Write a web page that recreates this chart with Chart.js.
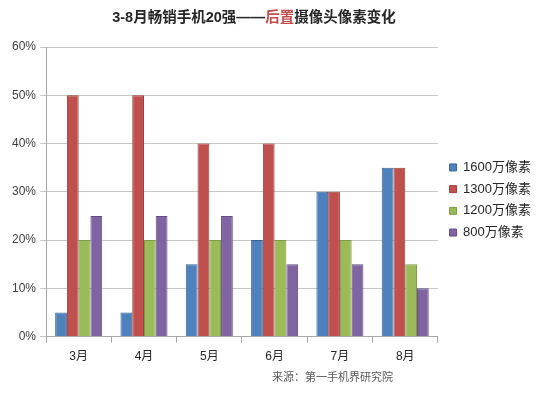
<!DOCTYPE html>
<html>
<head>
<meta charset="utf-8">
<script src="https://cdn.jsdelivr.net/npm/chart.js"></script>
<style>
  html, body { margin: 0; padding: 0; background: #fff; }
</style>
</head>
<body>
<canvas id="chart" width="553" height="395"></canvas>
<script>
const months = ['3月', '4月', '5月', '6月', '7月', '8月'];
const px1600 = [5, 5, 15, 20, 30, 35];
const px1300 = [50, 50, 40, 40, 30, 35];
const px1200 = [20, 20, 20, 20, 20, 15];
const px800 = [25, 25, 25, 15, 15, 10];
const seriesNames = ['1600万像素', '1300万像素', '1200万像素', '800万像素'];
const titleParts = [['3-8月畅销手机20强——', '#262626'], ['后置', '#c0504d'], ['摄像头像素变化', '#262626']];
const sourceText = '来源：第一手机界研究院';

const FONT = "'Liberation Sans', 'Noto Sans CJK SC', sans-serif";
const colors = ['#4f81bd', '#c0504d', '#9bbb59', '#8064a2'];
const borders = ['#3b6496', '#9c3d3a', '#7d9a44', '#644d83'];

// title + source line, drawn straight on the canvas
const extraText = {
  id: 'extraText',
  afterDraw(chart) {
    const ctx = chart.ctx;
    ctx.save();
    ctx.font = "bold 14.5px " + FONT;
    ctx.textBaseline = 'middle';
    let total = 0;
    titleParts.forEach(p => total += ctx.measureText(p[0]).width);
    let x = 254 - total / 2;
    titleParts.forEach(p => {
      ctx.fillStyle = p[1];
      ctx.fillText(p[0], x, 18);
      x += ctx.measureText(p[0]).width;
    });
    ctx.font = "11px " + FONT;
    ctx.fillStyle = '#595959';
    ctx.textAlign = 'left';
    ctx.fillText(sourceText, 272, 378);
    ctx.restore();
  }
};

// nudge the legend a bit right and up, like the original
const legendNudge = {
  id: 'legendNudge',
  afterUpdate(chart) {
    const lg = chart.legend;
    lg.left += 3; lg.right += 3;
    lg.top -= 9; lg.bottom -= 9;
  }
};

new Chart(document.getElementById('chart'), {
  type: 'bar',
  data: {
    labels: months,
    datasets: [px1600, px1300, px1200, px800].map((d, i) => ({
      label: seriesNames[i],
      data: d,
      backgroundColor: colors[i],
      borderColor: borders[i],
      borderWidth: 1,
      categoryPercentage: 0.72,
      barPercentage: 1
    }))
  },
  options: {
    responsive: false,
    animation: false,
    layout: { padding: { top: 47, left: 8, right: 15, bottom: 24 } },
    plugins: {
      tooltip: { enabled: false },
      legend: {
        position: 'right',
        labels: {
          boxWidth: 7,
          boxHeight: 7,
          padding: 8.7,
          color: '#262626',
          font: { family: FONT, size: 13 }
        }
      }
    },
    scales: {
      x: {
        grid: { offset: true, drawOnChartArea: false, drawTicks: true, tickLength: 6, color: '#a6a6a6' },
        border: { color: '#a6a6a6' },
        ticks: { color: '#262626', font: { family: FONT, size: 12 }, padding: 7 }
      },
      y: {
        min: 0,
        max: 60,
        ticks: {
          stepSize: 10,
          color: '#404040',
          font: { family: FONT, size: 12 },
          padding: 4,
          callback: v => v + '%'
        },
        grid: { color: '#c6c6c6', tickLength: 6 },
        border: { color: '#a6a6a6' }
      }
    }
  },
  plugins: [extraText, legendNudge]
});
</script>
</body>
</html>
